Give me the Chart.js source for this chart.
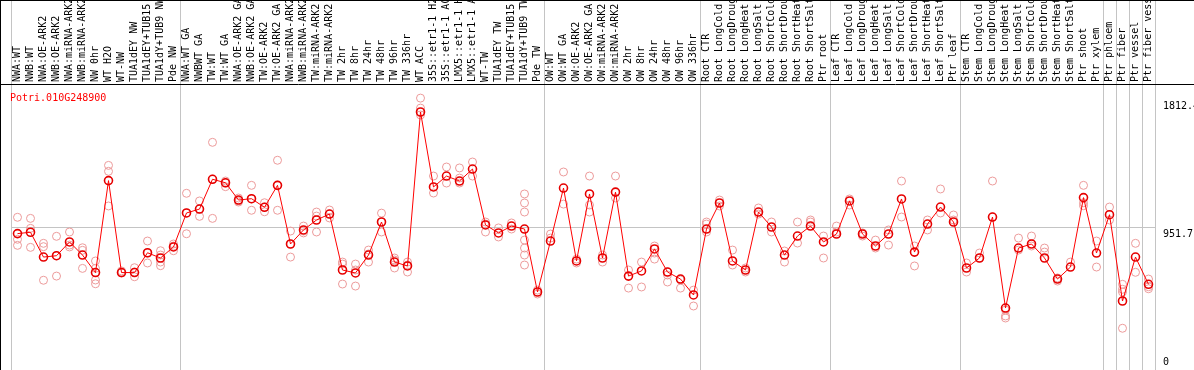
<!DOCTYPE html>
<html>
<head>
<meta charset="utf-8">
<script src="https://cdn.jsdelivr.net/npm/chart.js@4.4.1/dist/chart.umd.min.js"></script>
<style>
  html, body { margin: 0; padding: 0; background: #fff; overflow: hidden; }
  canvas { display: block; }
</style>
</head>
<body>
<!-- a few px taller than the window: Chart.js keeps point-radius padding at the bottom -->
<canvas id="chart-expr" width="1194" height="376"></canvas>
<script>
// Gene shown in the plot
const geneId = 'Potri.010G248900';

// Sample names (one column each)
const sampleNames = [
  'NWA:WT', 'NWB:WT', 'NWA:OE-ARK2', 'NWB:OE-ARK2', 'NWA:miRNA-ARK2', 'NWB:miRNA-ARK2', 'NW 0hr',
  'WT H2O', 'WT-NW', 'TUA1dEY NW', 'TUA1dEY+TUB15', 'TUA1dY+TUB9 NW', 'Pde NW',
  'NWA:WT GA', 'NWBWT GA', 'TW:WT', 'TW:WT GA', 'NWA:OE-ARK2 GA', 'NWB:OE-ARK2 GA', 'TW:OE-ARK2',
  'TW:OE-ARK2 GA', 'NWA:miRNA-ARK2', 'NWB:miRNA-ARK2', 'TW:miRNA-ARK2', 'TW:miRNA-ARK2',
  'TW 2hr', 'TW 8hr', 'TW 24hr', 'TW 48hr', 'TW 96hr', 'TW 336hr', 'WT ACC',
  '35S::etr1-1 H2O', '35S::etr1-1 ACC', 'LMX5::etr1-1 H2O', 'LMX5::etr1-1 ACC', 'WT-TW',
  'TUA1dEY TW', 'TUA1dEY+TUB15', 'TUA1dY+TUB9 TW', 'Pde TW',
  'OW:WT', 'OW:WT GA', 'OW:OE-ARK2', 'OW:OE-ARK2 GA', 'OW:miRNA-ARK2', 'OW:miRNA-ARK2',
  'OW 2hr', 'OW 8hr', 'OW 24hr', 'OW 48hr', 'OW 96hr', 'OW 336hr',
  'Root CTR', 'Root LongCold', 'Root LongDrought', 'Root LongHeat', 'Root LongSalt',
  'Root ShortCold', 'Root ShortDrought', 'Root ShortHeat', 'Root ShortSalt', 'Ptr root',
  'Leaf CTR', 'Leaf LongCold', 'Leaf LongDrought', 'Leaf LongHeat', 'Leaf LongSalt',
  'Leaf ShortCold', 'Leaf ShortDrought', 'Leaf ShortHeat', 'Leaf ShortSalt', 'Ptr leaf',
  'Stem CTR', 'Stem LongCold', 'Stem LongDrought', 'Stem LongHeat', 'Stem LongSalt',
  'Stem ShortCold', 'Stem ShortDrought', 'Stem ShortHeat', 'Stem ShortSalt', 'Ptr shoot', 'Ptr xylem',
  'Ptr phloem', 'Ptr fiber', 'Ptr vessel', 'Ptr fiber vessel'
];

// Column index where each experiment group starts (last one = end)
const groupEdges = [0, 13, 41, 53, 63, 73, 84, 85, 86, 87, 88];

// Mean expression per sample
const meanValues = [
  910, 920, 736, 746, 848, 751, 621, 1303, 621, 621, 768, 729, 811,
  1063, 1092, 1313, 1287, 1159, 1169, 1105, 1268, 833, 937, 1011, 1055,
  640, 618, 751, 996, 699, 670, 1812, 1256, 1337, 1300, 1389, 974, 915, 966, 944, 477,
  855, 1248, 707, 1204, 729, 1218, 595, 633, 796, 625, 573, 455,
  944, 1137, 707, 640, 1070, 959, 751, 892, 966, 848,
  907, 1152, 907, 818, 907, 1167, 773, 981, 1107, 996,
  655, 729, 1033, 358, 803, 833, 729, 573, 662, 1177, 766,
  1050, 410, 736, 534
];

// Replicate measurements per sample
const replicateValues = [
  [1031, 868, 823], [1023, 949, 808], [838, 813, 564], [890, 746, 595], [922, 825, 811],
  [805, 786, 652], [707, 652, 621, 566, 538], [1416, 1372, 1115], [633, 618, 620], [657, 590, 625],
  [855, 692, 766], [783, 751, 699, 672], [833, 818, 783],
  [1209, 909, 1063], [1152, 1038, 1092], [1587, 1023, 1315], [1300, 1285, 1258], [1174, 1152, 1144],
  [1268, 1083, 1167], [1139, 1072, 1107], [1454, 1083, 1270], [929, 736, 833], [966, 915, 929],
  [1040, 922, 1070], [1085, 1026, 1055],
  [699, 536, 684], [684, 521, 640], [788, 699, 759], [1062, 922, 996], [729, 655, 714], [699, 625, 677],
  [1915, 1841, 1790], [1337, 1211], [1404, 1285], [1397, 1322, 1285], [1441, 1337],
  [996, 922, 981], [952, 885], [989, 944], [1204, 1137, 1070, 862, 803, 751, 677], [491, 462],
  [907, 877], [1367, 1129], [721, 692], [1337, 1122, 1070], [751, 699], [1337, 1174],
  [640, 506], [699, 514], [818, 766, 721], [625, 603, 551], [566, 506], [491, 373],
  [996, 981, 922], [1159, 1115], [788, 677], [655, 625], [1100, 1055], [996, 922],
  [781, 699], [996, 840], [1011, 996], [892, 729],
  [966, 922], [1167, 1122], [915, 892], [862, 803], [937, 825], [1300, 1033],
  [818, 670], [1011, 937], [1241, 1063], [1048, 1011],
  [692, 625], [766, 729], [1300, 1033], [343, 299, 284], [877, 788], [892, 818],
  [803, 773], [581, 558], [699], [1268, 1139, 1117], [855, 662],
  [1107, 1011], [534, 497, 477, 208], [838, 623], [573, 516, 501]
];

// Labelled values on the right axis
const axisMarks = [0, 951.7, 1812];
const axisMarkText = ['0', '951.7', '1812.4'];

const meanPoints = meanValues.map((v, i) => ({ x: i, y: v }));
const replicatePoints = [];
replicateValues.forEach((vals, i) => {
  vals.forEach(v => replicatePoints.push({ x: i, y: v }));
});

const monoFont = '10px "DejaVu Sans Mono", monospace';
const gridGray = '#c4c4c4';

// Header labels, frame, gene id and axis values
const decorPlugin = {
  id: 'decor',
  afterDraw(chart) {
    const { ctx, chartArea, scales: { x, y } } = chart;
    ctx.save();

    ctx.strokeStyle = '#000';
    ctx.lineWidth = 1;
    ctx.beginPath();
    ctx.moveTo(0.5, 0);
    ctx.lineTo(0.5, chart.height);
    ctx.moveTo(0, 0.5);
    ctx.lineTo(chart.width, 0.5);
    ctx.moveTo(0, chartArea.top - 0.5);
    ctx.lineTo(chart.width, chartArea.top - 0.5);
    ctx.stroke();

    ctx.font = monoFont;
    ctx.fillStyle = '#000';
    ctx.textAlign = 'left';
    ctx.textBaseline = 'middle';
    sampleNames.forEach((name, i) => {
      ctx.save();
      ctx.translate(x.getPixelForValue(i), chartArea.top - 3);
      ctx.rotate(-Math.PI / 2);
      ctx.fillText(name, 0, 0);
      ctx.restore();
    });

    ctx.fillStyle = '#ff0000';
    ctx.textBaseline = 'top';
    ctx.fillText(geneId, chartArea.left - 1, chartArea.top + 8);

    ctx.fillStyle = '#000';
    const top = Math.max(...axisMarks);
    axisMarks.forEach((v, i) => {
      ctx.textBaseline = v === top ? 'bottom' : 'top';
      ctx.fillText(axisMarkText[i], chartArea.right + 8, y.getPixelForValue(v) + (v === top ? -1 : 1));
    });

    ctx.restore();
  }
};

new Chart(document.getElementById('chart-expr'), {
  type: 'line',
  data: {
    datasets: [
      {
        label: 'mean',
        data: meanPoints,
        borderColor: '#ff0000',
        borderWidth: 1,
        pointRadius: 4,
        pointBorderWidth: 1.6,
        pointBorderColor: '#e60000',
        pointBackgroundColor: 'rgba(255,255,255,0)',
        tension: 0,
        order: 0
      },
      {
        label: 'replicates',
        data: replicatePoints,
        showLine: false,
        pointRadius: 4,
        pointBorderWidth: 1,
        pointBorderColor: '#ec9a9a',
        pointBackgroundColor: 'rgba(255,255,255,0)',
        order: 1
      }
    ]
  },
  options: {
    responsive: false,
    animation: false,
    events: [],
    layout: { padding: { left: 11, right: 0, top: 0, bottom: 0 } },
    plugins: {
      legend: { display: false },
      tooltip: { enabled: false }
    },
    scales: {
      x: {
        type: 'linear',
        position: 'top',
        min: -0.5,
        max: sampleNames.length - 0.5,
        afterBuildTicks: s => { s.ticks = groupEdges.map(e => ({ value: e - 0.5 })); },
        grid: { color: gridGray, lineWidth: 1, drawTicks: true, tickLength: 85 },
        border: { display: false },
        ticks: { display: false },
        afterFit: s => { s.height = 85; }
      },
      y: {
        position: 'right',
        min: -104.6,
        max: 2012.2,
        afterBuildTicks: s => { s.ticks = axisMarks.map(v => ({ value: v })); },
        grid: {
          drawTicks: false,
          lineWidth: 1,
          color: c => (c.tick && c.tick.value === 951.7) ? gridGray : 'rgba(0,0,0,0)'
        },
        border: { display: false },
        ticks: { display: false },
        afterFit: s => { s.width = 39; }
      }
    }
  },
  plugins: [decorPlugin]
});
</script>
</body>
</html>
